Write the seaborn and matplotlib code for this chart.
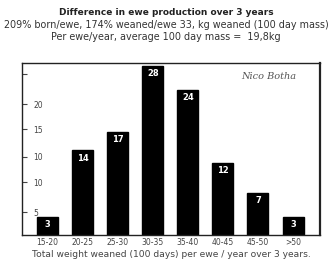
import matplotlib
matplotlib.use("Agg")
import matplotlib.pyplot as plt
import seaborn as sns
import pandas as pd

categories = ["15-20", "20-25", "25-30", "30-35", "35-40", "40-45", "45-50", ">50"]
values = [3, 14, 17, 28, 24, 12, 7, 3]
ytick_vals = [3.8, 8.7, 13.0, 17.5, 21.7, 26.7]
ytick_labels = ["5", "10", "10", "15", "20", ""]

title1 = "Difference in ewe production over 3 years"
title2 = "209% born/ewe, 174% weaned/ewe 33, kg weaned (100 day mass)"
title3 = "Per ewe/year, average 100 day mass =  19,8kg"
xlabel = "Total weight weaned (100 days) per ewe / year over 3 years."
author = "Nico Botha"

sns.set_theme(style="white")
plt.rcParams["font.family"] = ["DejaVu Sans"]

df = pd.DataFrame({"cat": categories, "val": values})

fig = plt.figure(figsize=(3.32, 2.67), dpi=100)
ax = fig.add_axes([0.066, 0.120, 0.898, 0.644])
sns.barplot(data=df, x="cat", y="val", color="black", saturation=1, width=0.6,
            edgecolor="black", ax=ax)
ax.set_xlim(-0.73, 7.77)
ax.set_ylim(0, 28.5)

for i, v in enumerate(values):
    ax.text(i, v - 0.5, str(v), ha="center", va="top", color="white",
            fontsize=6, fontweight="bold")

ax.set_yticks(ytick_vals)
ax.set_yticklabels(ytick_labels, fontsize=5.5, color="#555")
ax.tick_params(axis="y", left=True, direction="in", length=3.5, width=0.8,
               pad=-8, colors="#444")
for lbl in ax.get_yticklabels():
    lbl.set_horizontalalignment("left")
ax.tick_params(axis="x", bottom=False, length=0, labelsize=5.5, pad=2, colors="#444")
ax.set_xlabel(xlabel, fontsize=6.6, color="#444", labelpad=2)
ax.set_ylabel("")

for s in ["left", "bottom", "top", "right"]:
    ax.spines[s].set_visible(True)
    ax.spines[s].set_color("#222")
    ax.spines[s].set_linewidth(1.0)
ax.spines["right"].set_linewidth(1.6)

ax.text(0.92, 0.92, author, transform=ax.transAxes, ha="right", va="center",
        fontsize=7, fontstyle="italic", family="DejaVu Serif", color="#555")

fig.text(0.5, 0.955, title1, ha="center", va="center", fontsize=6.5, fontweight="bold", color="#222")
fig.text(0.5, 0.905, title2, ha="center", va="center", fontsize=6.9, color="#333")
fig.text(0.5, 0.86, title3, ha="center", va="center", fontsize=6.9, color="#333")

fig.savefig("out.png", dpi=100)
